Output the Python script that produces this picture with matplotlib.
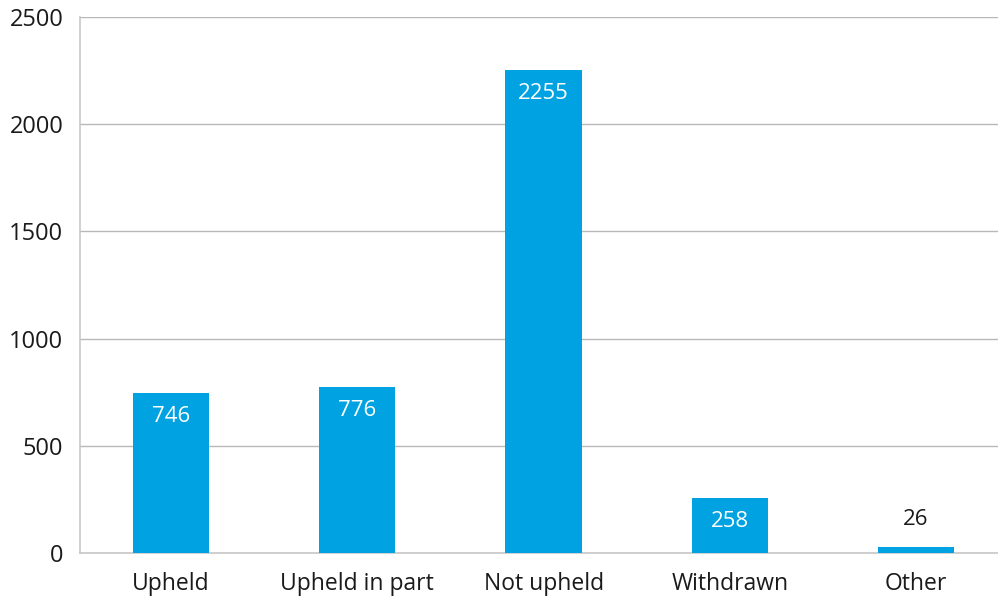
import matplotlib.pyplot as plt

categories = ['Upheld', 'Upheld in part', 'Not upheld', 'Withdrawn', 'Other']
values = [746, 776, 2255, 258, 26]
y_ticks = [0, 500, 1000, 1500, 2000, 2500]

plt.rcParams['font.family'] = ['Open Sans', 'DejaVu Sans']

W, H = 998, 599
fig = plt.figure(figsize=(W / 100, H / 100), dpi=100)
ax = fig.add_axes([80 / W, (H - 553) / H, (998 - 80) / W, (553 - 17) / H])

bar_color = '#00a2e1'
x = list(range(len(categories)))
bars = ax.bar(x, values, width=0.41, color=bar_color, zorder=3)

ax.set_xlim(-0.489, 4.44)
ax.set_ylim(0, 2500)
ax.set_yticks(y_ticks)
ax.set_yticklabels([str(t) for t in y_ticks], fontsize=17)
ax.set_xticks(x)
ax.set_xticklabels(categories, fontsize=16.5)

ax.grid(axis='y', color='#b8b8b8', linewidth=1, zorder=0)
for s in ['top', 'right']:
    ax.spines[s].set_visible(False)
ax.spines['left'].set_color('#c8c8c8')
ax.spines['bottom'].set_color('#c8c8c8')
ax.spines['left'].set_linewidth(1.2)
ax.spines['bottom'].set_linewidth(1.2)
ax.tick_params(axis='both', length=0, colors='#1a1a1a')
ax.tick_params(axis='y', pad=12)
ax.tick_params(axis='x', pad=14)

# labels: inside bar for big ones, above for tiny ones
for xi, v in zip(x, values):
    if v > 150:
        ax.annotate(str(v), (xi, v), xytext=(0, -17), textcoords='offset points',
                    ha='center', va='center', color='white', fontsize=16, zorder=4)
    else:
        ax.annotate(str(v), (xi, v), xytext=(0, 20), textcoords='offset points',
                    ha='center', va='center', color='#1a1a1a', fontsize=16, zorder=4)

fig.savefig('out.png', dpi=100)
plt.close('all')
